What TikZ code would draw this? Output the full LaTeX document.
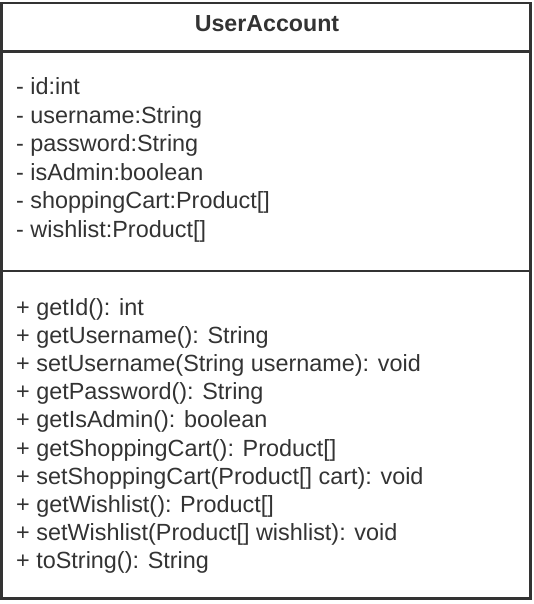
\documentclass[tikz,border=0pt]{standalone}
\usepackage{fontspec}
\setmainfont{Liberation Sans}
\definecolor{ink}{HTML}{333333}
\begin{document}
\begin{tikzpicture}[x=1pt,y=-1pt,
  frame/.style={draw=ink,line width=2.6pt},
  sep/.style={draw=ink,line width=2.6pt},
  member/.style={anchor=base west,inner sep=0pt,text=ink,font=\fontsize{23.4}{28}\selectfont},
  title/.style={anchor=base,inner sep=0pt,text=ink,font=\fontsize{23.2}{28}\selectfont\bfseries}]
\useasboundingbox (0,0) rectangle (534,604);
\draw[frame] (1.3,3) rectangle (530.3,598.5);
\coordinate (h1l) at (1.3,51.3);
\coordinate (h1r) at (530.3,51.3);
\coordinate (h2l) at (1.3,270.8);
\coordinate (h2r) at (530.3,270.8);
\draw[sep] (h1l) -- (h1r);
\draw[sep] (h2l) -- (h2r);
\node[title] (t) at (267,32) {UserAccount};
\node[member] (a1) at (16,95) {- id:int};
\node[member] (a2) at (16,123.4) {- username:String};
\node[member] (a3) at (16,151.8) {- password:String};
\node[member] (a4) at (16,180.2) {- isAdmin:boolean};
\node[member] (a5) at (16,208.6) {- shoppingCart:Product[]};
\node[member] (a6) at (16,237) {- wishlist:Product[]};
\node[member] (m1) at (16,315) {+ getId(): int};
\node[member] (m2) at (16,343.2) {+ getUsername(): String};
\node[member] (m3) at (16,371.4) {+ setUsername(String username): void};
\node[member] (m4) at (16,399.6) {+ getPassword(): String};
\node[member] (m5) at (16,427.8) {+ getIsAdmin(): boolean};
\node[member] (m6) at (16,456) {+ getShoppingCart(): Product[]};
\node[member] (m7) at (16,484.2) {+ setShoppingCart(Product[] cart): void};
\node[member] (m8) at (16,512.4) {+ getWishlist(): Product[]};
\node[member] (m9) at (16,540.6) {+ setWishlist(Product[] wishlist): void};
\node[member] (m10) at (16,568.8) {+ toString(): String};
\end{tikzpicture}
\end{document}
